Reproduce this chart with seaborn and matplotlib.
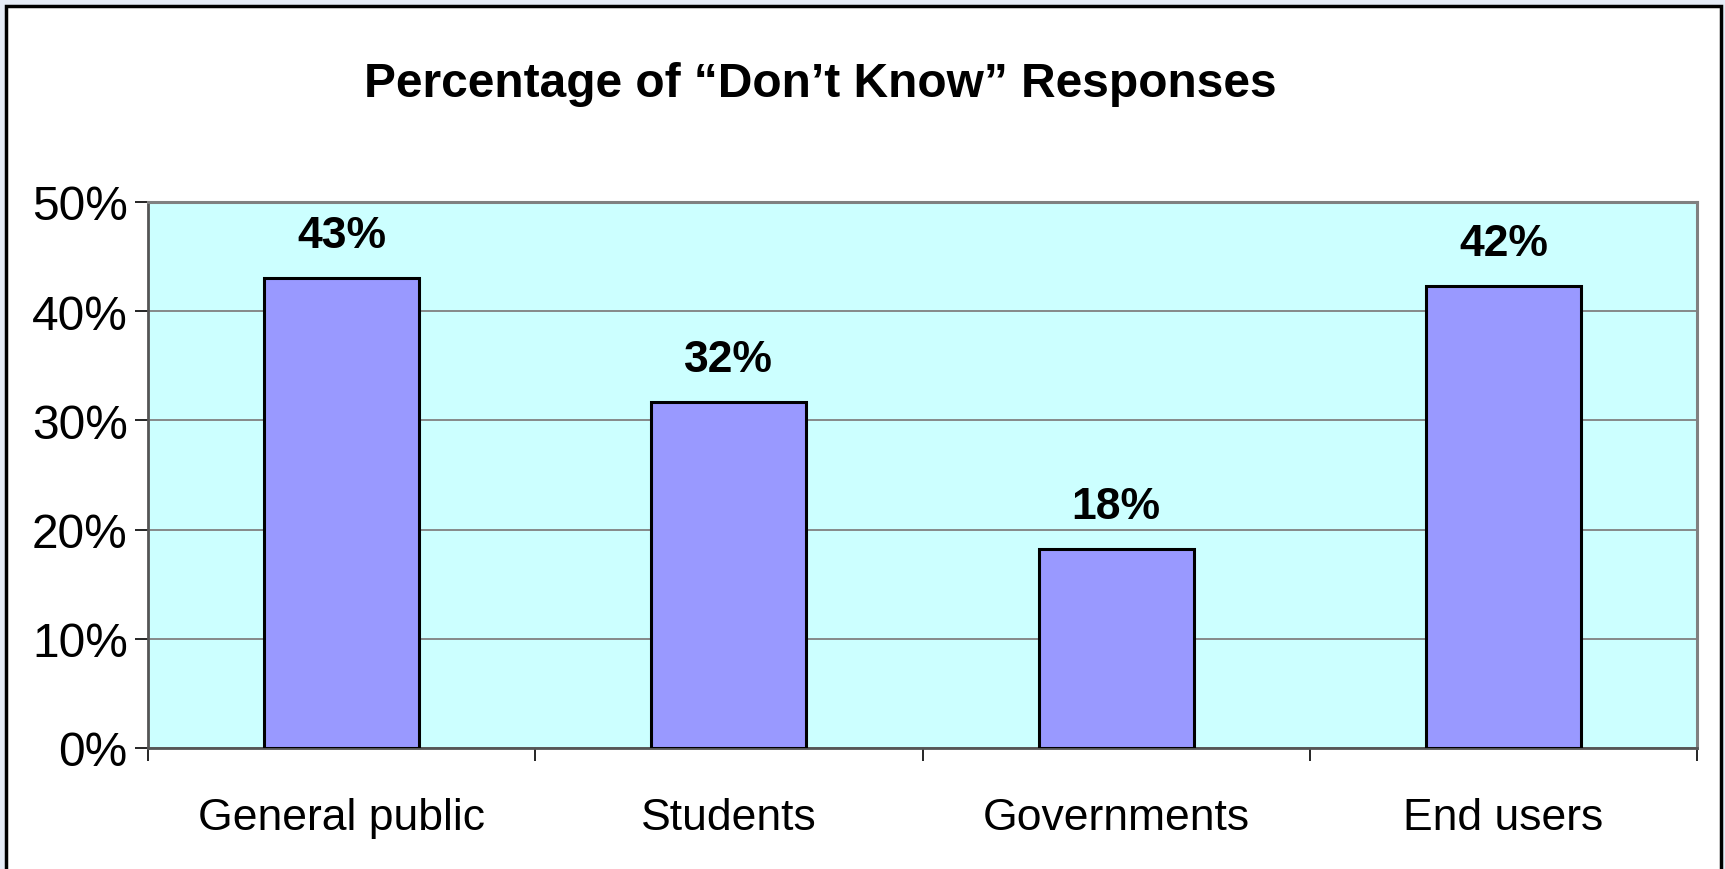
import matplotlib
matplotlib.use("Agg")
import matplotlib.pyplot as plt
import seaborn as sns
import pandas as pd
from matplotlib.patches import Rectangle
from matplotlib.ticker import FixedLocator, PercentFormatter

categories = ["General public", "Students", "Governments", "End users"]
values = [43.0, 31.7, 18.2, 42.3]
labels = ["43%", "32%", "18%", "42%"]
title = "Percentage of \u201cDon\u2019t Know\u201d Responses"
yticks = [0, 10, 20, 30, 40, 50]

sns.set_theme(style="white")
plt.rcParams["font.family"] = ["Liberation Sans", "DejaVu Sans"]
plt.rcParams["text.color"] = "black"
plt.rcParams["xtick.labelcolor"] = "black"
plt.rcParams["ytick.labelcolor"] = "black"

df = pd.DataFrame({"category": categories, "value": values})

fig = plt.figure(figsize=(17.25, 8.7), dpi=100)
fig.patch.set_facecolor("#e6ecf7")
# white chart area with black border
fig.patches.append(Rectangle((6 / 1725, -0.05), (1721 - 6) / 1725, 1.05 - 7 / 870,
                             transform=fig.transFigure, facecolor="white",
                             edgecolor="black", linewidth=2.5, zorder=-10))

ax = fig.add_axes([148 / 1725, 1 - 749 / 870, (1697 - 148) / 1725, (749 - 203) / 870])
ax.set_facecolor("#ccffff")
sns.barplot(data=df, x="category", y="value", color="#9999ff", width=0.4,
            edgecolor="black", linewidth=2.2, saturation=1, ax=ax, zorder=3)

ax.set_ylim(0, 50)
ax.set_xlim(-0.5, 3.5)
ax.yaxis.set_major_locator(FixedLocator(yticks))
ax.yaxis.set_major_formatter(PercentFormatter(decimals=0))
ax.grid(axis="y", color="#808080", linewidth=1.3, zorder=0)
ax.set_axisbelow(True)

ax.set_xlabel("")
ax.set_ylabel("")
ax.tick_params(axis="y", which="major", direction="out", length=9.5, width=1.2,
               color="black", labelcolor="black", labelsize=34.5, pad=5, left=True)
ax.tick_params(axis="x", which="major", length=0, labelsize=32,
               labelcolor="black", pad=35)
ax.set_xticks([-0.5, 0.5, 1.5, 2.5, 3.5], minor=True)
ax.tick_params(axis="x", which="minor", direction="out", length=9.5, width=1.2,
               color="black", bottom=True)

for side in ["top", "right"]:
    ax.spines[side].set_color("#808080")
    ax.spines[side].set_linewidth(2.2)
ax.spines["left"].set_color("#555555")
ax.spines["left"].set_linewidth(2)
ax.spines["bottom"].set_color("#555555")
ax.spines["bottom"].set_linewidth(2)

for i, (v, lab) in enumerate(zip(values, labels)):
    ax.annotate(lab, xy=(i, v), xytext=(0, 22.5), textcoords="offset points",
                ha="center", va="baseline", fontsize=32, fontweight="bold",
                color="black", zorder=5)

fig.text(820 / 1725, 1 - 97 / 870, title, ha="center", va="baseline",
         fontsize=34.5, fontweight="bold", color="black")

fig.savefig("out.png", dpi=100, facecolor=fig.get_facecolor())
